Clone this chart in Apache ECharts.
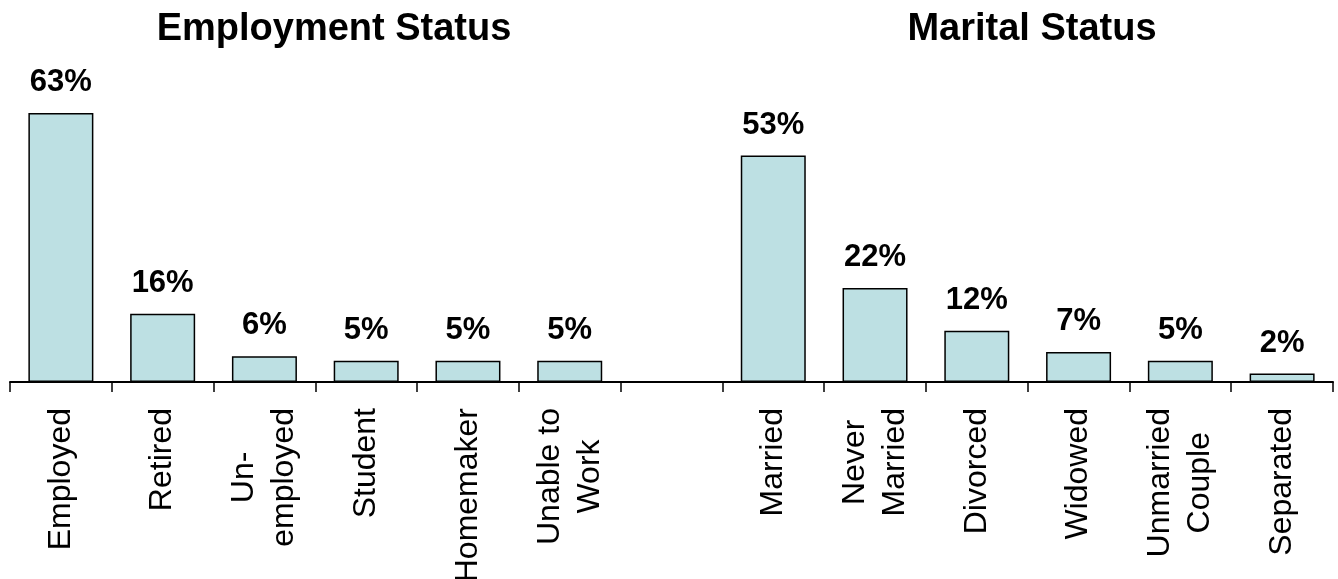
<!DOCTYPE html>
<html lang="en">
<head>
    <meta charset="UTF-8">
    <title>Employment and Marital Status</title>
    <script src="https://cdn.jsdelivr.net/npm/echarts@6/dist/echarts.min.js"></script>
    <style>
        html, body { margin: 0; padding: 0; background: #fff; }
        #main { width: 1338px; height: 579px; }
    </style>
</head>
<body>
    <div id="main"></div>
    <script>
        // categories: employment block, one empty slot, marital block
        var employCats = ['Employed', 'Retired', 'Un-\nemployed', 'Student', 'Homemaker', 'Unable to\nWork'];
        var maritalCats = ['Married', 'Never\nMarried', 'Divorced', 'Widowed', 'Unmarried\nCouple', 'Separated'];
        var employVals = [63, 16, 6, 5, 5, 5];
        var maritalVals = [53, 22, 12, 7, 5, 2];

        var cats = employCats.concat(['']).concat(maritalCats);
        var vals = employVals.concat(['-']).concat(maritalVals);

        var font = '"Liberation Sans", Arial, sans-serif';

        var myChart = echarts.init(document.getElementById('main'));
        myChart.setOption({
            animation: false,
            title: [{
                text: 'Employment Status',
                left: 329,
                top: 6,
                textAlign: 'center',
                textStyle: { fontFamily: font, fontSize: 38, fontWeight: 'bold', color: '#000' }
            }, {
                text: 'Marital Status',
                left: 1027,
                top: 6,
                textAlign: 'center',
                textStyle: { fontFamily: font, fontSize: 38, fontWeight: 'bold', color: '#000' }
            }],
            grid: { left: 10, right: 5, top: 83, bottom: 197, containLabel: false, outerBoundsMode: 'none' },
            xAxis: {
                type: 'category',
                data: cats,
                axisLine: { lineStyle: { color: '#000', width: 2 } },
                axisTick: { show: true, length: 10, lineStyle: { color: '#000', width: 1.5 } },
                axisLabel: {
                    interval: 0,
                    rotate: 90,
                    margin: 26,
                    fontFamily: font,
                    fontSize: 32,
                    lineHeight: 40,
                    color: '#000',
                    // two-line labels: lines centred on each other
                    formatter: function (v) {
                        if (!v) return '';
                        return v.split('\n').map(function (l) { return '{c|' + l + '}'; }).join('\n');
                    },
                    rich: {
                        c: { align: 'center', fontFamily: font, fontSize: 32, lineHeight: 40, color: '#000' }
                    }
                }
            },
            yAxis: {
                type: 'value',
                min: 0,
                max: 70,
                show: false,
                splitLine: { show: false }
            },
            series: [{
                type: 'bar',
                data: vals,
                barWidth: 65,
                itemStyle: { color: '#bde0e3', borderColor: '#000', borderWidth: 1.5 },
                label: {
                    show: true,
                    position: 'top',
                    distance: 15,
                    formatter: '{c}%',
                    fontFamily: font,
                    fontSize: 31,
                    fontWeight: 'bold',
                    color: '#000'
                }
            }]
        });
    </script>
</body>
</html>
